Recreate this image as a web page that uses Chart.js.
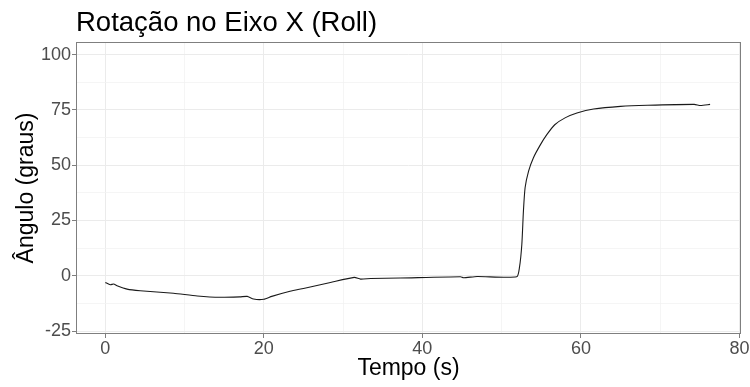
<!DOCTYPE html>
<html>
<head>
<meta charset="utf-8">
<script src="https://cdn.jsdelivr.net/npm/chart.js@4"></script>
<style>
  html, body { margin: 0; padding: 0; background: #fff; }
  #wrap { width: 750px; height: 387px; }
</style>
</head>
<body>
<div id="wrap"><canvas id="grafico-roll"></canvas></div>
<script>
// Dados (tempo em s, ângulo em graus)
const tempo = [0, 0.63, 1.05, 1.48, 2.74, 4.4, 8.6, 11.6, 14.5, 17.0, 17.9, 18.7, 20.0, 21.0, 23.3, 25.0, 28.4,
    31.4, 32.2, 33.5, 37.2, 44.8, 45.2, 46.9, 51.9, 52.25, 52.55, 52.75, 52.96, 53.4, 54.0, 54.9,
    55.7, 56.7, 58.0, 59.5, 61.6, 65.0, 68.4, 74.3, 75.1, 76.3];
const angulo = [-3.0, -4.05, -3.7, -4.5, -6.0, -6.75, -7.9, -9.1, -9.7, -9.5, -9.3, -10.5, -10.6, -9.3, -7.0, -5.7, -3.0,
    -0.7, -1.5, -1.2, -1.0, -0.45, -0.9, -0.3, -0.45, 3.8, 14.3, 29.3, 39.8, 47.3, 53.3, 59.3,
    63.8, 68.3, 71.4, 73.6, 75.4, 76.6, 77.1, 77.5, 77.0, 77.5];
const ticksX = [0, 20, 40, 60, 80];
const ticksY = [-25, 0, 25, 50, 75, 100];

const corGrade = "#ebebeb";
const corGradeMenor = "#f3f3f3";
const corBorda = "#7f7f7f";

const pontos = tempo.map((t, i) => ({ x: t, y: angulo[i] }));

// borda do painel nos 4 lados (estilo ggplot)
const bordaPainel = {
    id: "bordaPainel",
    afterDatasetsDraw(chart) {
        const { ctx, chartArea: a } = chart;
        ctx.save();
        ctx.strokeStyle = corBorda;
        ctx.lineWidth = 1;
        ctx.strokeRect(a.left + 0.5, a.top + 0.5, a.right - a.left - 1, a.bottom - a.top - 1);
        ctx.restore();
    }
};

const ctx = document.getElementById("grafico-roll").getContext("2d");
new Chart(ctx, {
    type: "line",
    data: {
        datasets: [{
            data: pontos,
            borderColor: "#1a1a1a",
            borderWidth: 1.1,
            pointRadius: 0,
            tension: 0.2,
            fill: false
        }]
    },
    options: {
        responsive: true,
        maintainAspectRatio: false,
        animation: false,
        layout: { padding: { top: 0, right: 9, bottom: 0, left: 0 } },
        plugins: {
            legend: { display: false },
            tooltip: { enabled: false },
            title: {
                display: true,
                text: "Rotação no Eixo X (Roll)",
                align: "start",
                fullSize: false,
                color: "#000",
                font: { family: "Liberation Sans, Arial, sans-serif", size: 27.5, weight: "normal" },
                padding: { top: 7, bottom: 2 }
            }
        },
        scales: {
            x: {
                type: "linear",
                min: -3.7,
                max: 80.2,
                afterFit: (s) => { s.height = 53; },
                ticks: {
                    stepSize: 10,
                    includeBounds: false,
                    autoSkip: false,
                    maxRotation: 0,
                    padding: 0,
                    color: "#4d4d4d",
                    font: { family: "Liberation Sans, Arial, sans-serif", size: 18 },
                    callback: (v) => ticksX.includes(v) ? String(v) : ""
                },
                grid: {
                    color: (c) => ticksX.includes(c.tick.value) ? corGrade : corGradeMenor,
                    lineWidth: (c) => ticksX.includes(c.tick.value) ? 1 : 0.8,
                    tickColor: (c) => ticksX.includes(c.tick.value) ? corBorda : "rgba(0,0,0,0)",
                    tickLength: 4,
                    drawTicks: true
                },
                border: { display: false },
                title: {
                    display: true,
                    text: "Tempo (s)",
                    color: "#000",
                    font: { family: "Liberation Sans, Arial, sans-serif", size: 23 },
                    padding: { top: 0, bottom: 5 }
                }
            },
            y: {
                type: "linear",
                min: -26.3,
                max: 105.7,
                afterFit: (s) => { s.width = 76; },
                ticks: {
                    stepSize: 12.5,
                    includeBounds: false,
                    autoSkip: false,
                    padding: 1,
                    color: "#4d4d4d",
                    font: { family: "Liberation Sans, Arial, sans-serif", size: 18 },
                    callback: (v) => ticksY.includes(v) ? String(v) : ""
                },
                grid: {
                    color: (c) => ticksY.includes(c.tick.value) ? corGrade : corGradeMenor,
                    lineWidth: (c) => ticksY.includes(c.tick.value) ? 1 : 0.8,
                    tickColor: (c) => ticksY.includes(c.tick.value) ? corBorda : "rgba(0,0,0,0)",
                    tickLength: 4
                },
                border: { display: false },
                title: {
                    display: true,
                    text: "Ângulo (graus)",
                    color: "#000",
                    font: { family: "Liberation Sans, Arial, sans-serif", size: 23 },
                    padding: { top: 13, bottom: 0 }
                }
            }
        }
    },
    plugins: [bordaPainel]
});
</script>
</body>
</html>
